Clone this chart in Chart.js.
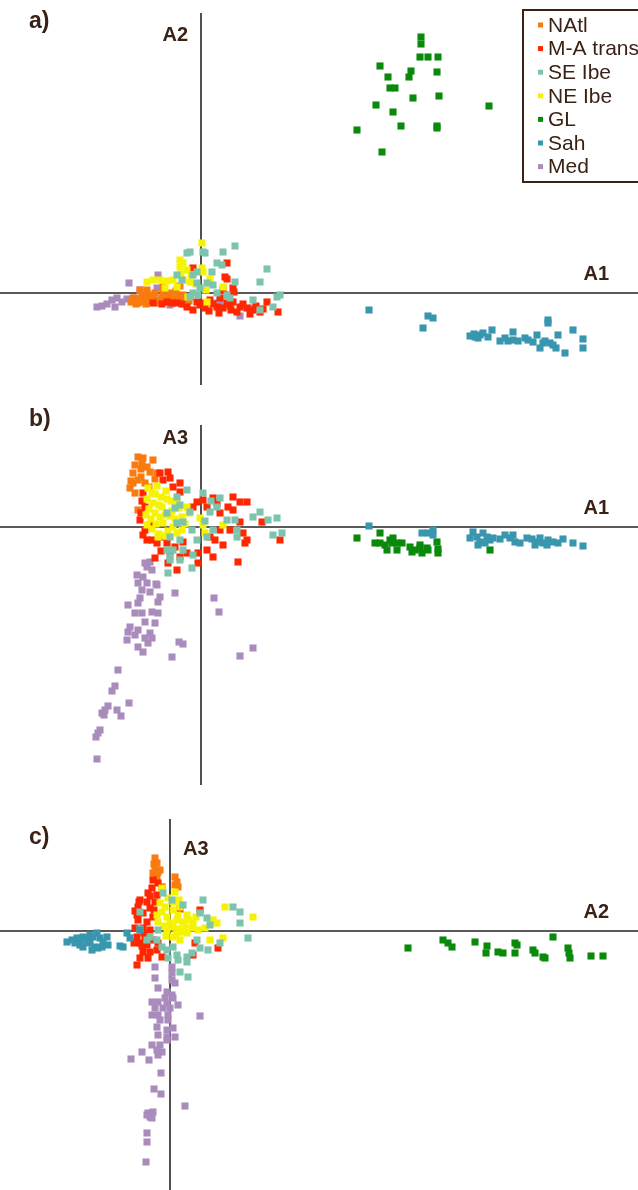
<!DOCTYPE html>
<html>
<head>
<meta charset="utf-8">
<script src="https://cdn.jsdelivr.net/npm/chart.js@4"></script>
<style>
html, body { margin: 0; padding: 0; background: #fff; }
#wrap { position: relative; width: 638px; height: 1190px; overflow: hidden; }
#wrap canvas { position: absolute; left: 0; }
</style>
</head>
<body>
<div id="wrap">
  <canvas id="chartA" width="638" height="400" style="top:0"></canvas>
  <canvas id="chartB" width="638" height="400" style="top:400px"></canvas>
  <canvas id="chartC" width="638" height="390" style="top:800px"></canvas>
</div>
<script>
// groups, in legend order
const groups = ['NAtl', 'M-A trans', 'SE Ibe', 'NE Ibe', 'GL', 'Sah', 'Med'];
const colors = ['#F97B10', '#FF2600', '#7DC4AE', '#F6F300', '#0A8A0A', '#3896AE', '#A98CBC'];
const stackOrder = [6, 5, 3, 4, 2, 1, 7]; // lower = drawn on top

// ---- panel a : A1 (x) vs A2 (y)
const natlA = [[-7.0,-0.9],[-6.6,-0.7],[-6.3,-1.0],[-6.0,-0.6],[-5.7,-0.9],[-5.4,-0.5],[-5.1,-0.8],[-4.8,-0.4],[-4.5,-0.7],[-4.2,-1.0],[-3.9,-0.5],[-3.6,-0.8],[-3.3,-0.3],[-3.0,-0.6],[-2.7,-0.9],[-2.4,-0.4],[-2.1,-0.7],[-1.8,-0.2],[-1.5,-0.5],[-1.2,-0.8],[-6.8,-0.5],[-5.9,-0.3],[-5.2,-0.2],[-4.6,0.0],[-3.8,0.1],[-3.1,0.0],[-2.5,0.2],[-6.5,-1.1],[-5.5,-1.1],[-4.0,-0.9],[-6.1,0.3],[-5.4,0.3],[-3.8,0.6],[-2.1,0.7]];
const maA = [[2.6,3.0],[2.4,1.6],[2.6,1.4],[3.2,0.5],[3.3,0.1],[-0.8,2.5],[-1.1,-0.4],[-0.4,-0.9],[-0.1,-1.2],[-1.4,-1.4],[0.9,-0.7],[1.6,-1.4],[2.6,-1.0],[3.2,-0.9],[3.9,-1.4],[4.6,-1.5],[5.2,-1.7],[5.9,-1.9],[6.6,-0.9],[7.7,-1.9],[3.6,-1.9],[2.2,-1.5],[-2.4,-1.0],[-3.4,-0.9],[-4.8,-1.0],[2.6,-0.2],[1.9,-0.5],[-1.9,-1.1],[0.3,-1.0],[1.2,-1.1],[4.2,-1.1],[2.9,-1.3],[-2.9,-1.0],[-3.9,-1.1],[0.4,-1.5],[0.8,-1.8],[1.8,-2.0],[3.0,-1.7],[4.9,-2.1],[5.5,-1.3],[6.2,-1.6],[-0.8,-1.7],[2.2,0.3]];
const seA = [[3.4,4.7],[2.2,4.1],[-1.1,4.1],[-1.4,4.0],[0.2,4.1],[0.4,4.0],[1.6,3.0],[2.1,2.8],[6.6,2.4],[5.9,1.1],[3.4,1.1],[1.1,2.1],[-0.4,2.1],[-0.8,1.8],[-2.4,1.8],[-1.9,1.3],[-0.4,1.0],[-0.1,0.5],[0.6,1.0],[1.2,0.8],[-0.8,0.0],[-0.3,-0.2],[1.6,0.0],[2.6,-0.2],[2.9,-0.5],[5.2,-0.7],[5.9,-1.7],[7.2,-1.4],[7.9,-0.2],[7.6,-0.4],[-1.1,-0.4]];
const neA = [[0.1,5.0],[-2.1,3.3],[-1.8,3.0],[-2.1,2.6],[-5.4,1.1],[-4.8,1.3],[-4.1,1.3],[-3.4,1.2],[-2.8,1.3],[-1.4,2.3],[-1.1,1.1],[-1.8,1.3],[0.1,2.5],[0.2,2.1],[0.5,0.3],[0.6,-0.9],[2.2,0.6],[-1.3,-0.4],[-2.4,0.6],[-3.6,0.5],[-1.0,1.8],[-0.5,0.9],[0.9,1.4],[-2.0,1.9]];
const glA = [[22.0,25.6],[22.0,24.9],[21.9,23.6],[22.7,23.6],[23.7,23.6],[17.9,22.7],[18.7,21.6],[21.0,22.2],[20.8,21.6],[23.6,22.1],[18.9,20.5],[19.4,20.5],[21.2,19.5],[23.8,19.7],[17.5,18.8],[19.2,18.1],[28.8,18.7],[15.6,16.3],[20.0,16.7],[23.6,16.7],[23.6,16.5],[18.1,14.1]];
const sahA = [[16.8,-1.7],[22.7,-2.3],[23.2,-2.5],[22.2,-3.5],[26.9,-4.3],[27.4,-4.4],[27.9,-4.2],[28.2,-4.0],[29.1,-3.7],[28.7,-4.4],[29.9,-4.8],[30.4,-4.5],[31.2,-3.9],[31.2,-4.7],[31.7,-4.8],[32.7,-4.7],[33.2,-4.9],[33.6,-4.2],[33.9,-5.5],[34.2,-5.0],[34.7,-2.7],[34.7,-3.0],[35.2,-5.2],[35.5,-5.5],[35.7,-4.2],[36.4,-6.0],[37.2,-3.7],[38.2,-4.6],[38.2,-5.5],[27.3,-4.1],[27.7,-4.5],[30.7,-4.8],[34.4,-4.8],[34.9,-5.0],[32.4,-4.5]];
const medA = [[-10.4,-1.4],[-9.9,-1.3],[-9.4,-1.1],[-8.9,-0.7],[-8.4,-0.5],[-8.6,-1.4],[-7.9,-0.9],[-7.4,-0.6],[-7.2,1.0],[-6.6,-0.5],[-6.1,0.3],[-5.6,-0.4],[-4.9,-0.7],[-4.4,0.5],[-4.3,1.8],[-2.9,-0.7],[-2.1,-0.4],[-1.9,-1.0],[1.6,-1.0],[1.9,-0.9],[3.9,-2.3],[5.2,-1.5],[-3.1,-1.2]];

// ---- panel b : A1 (x) vs A3 (y)
const natlB = [[-6.3,7.0],[-6.6,6.2],[-5.9,6.4],[-5.4,6.0],[-6.8,5.4],[-5.1,5.5],[-6.3,4.7],[-6.8,4.4],[-5.6,4.4],[-7.1,3.9],[-4.8,6.7],[-4.4,5.4],[-6.3,1.7],[-6.0,5.0],[-5.2,4.0],[-6.6,3.4],[-4.6,4.8],[-7.0,4.6],[-5.8,6.9],[-6.0,5.8]];
const maB = [[-4.1,5.4],[-3.3,5.5],[-3.1,4.9],[-3.8,4.7],[-2.1,4.4],[-2.8,4.0],[-2.1,3.5],[-5.8,3.4],[-5.6,2.0],[-6.1,0.7],[-5.8,-0.8],[-5.4,-1.3],[-4.9,-1.3],[-4.1,-1.0],[-3.4,-1.6],[-3.1,-2.5],[-2.1,-3.0],[-4.6,-3.1],[-2.4,-4.3],[-3.3,-3.6],[-0.3,-3.6],[-0.3,-2.6],[-0.8,2.0],[-0.4,2.5],[0.2,2.7],[0.6,2.0],[1.2,2.9],[1.6,2.4],[1.9,1.4],[2.7,2.0],[3.2,3.0],[3.2,1.7],[3.9,2.5],[4.6,2.5],[3.9,0.5],[4.2,-0.6],[4.6,-1.3],[6.1,0.5],[7.9,-1.3],[2.9,-0.3],[1.9,-0.3],[1.4,-1.3],[0.9,-1.0],[0.6,-2.3],[1.2,-3.0],[3.7,-3.5],[2.2,-1.8],[4.4,-1.6],[-1.8,-1.5],[-5.1,0.2],[-5.9,2.6],[-6.0,1.4],[-5.6,-0.3],[-4.4,-1.6],[-2.6,-2.0],[-1.4,-2.6],[-4.0,-2.4]];
const seB = [[-1.4,3.7],[0.2,3.4],[-2.4,3.0],[-2.1,2.2],[-1.1,1.5],[-3.4,1.4],[-2.4,0.4],[-1.8,0.5],[-3.1,-1.0],[-2.1,-1.3],[-3.4,-2.3],[-2.8,-2.3],[-1.8,-2.3],[-3.1,-3.0],[-0.8,-2.8],[-0.4,-1.3],[0.9,1.5],[1.6,2.0],[1.9,2.9],[2.6,0.7],[3.4,0.7],[3.6,-0.3],[5.2,1.0],[5.9,1.5],[6.7,0.7],[7.6,0.9],[7.2,-0.8],[8.1,-0.6],[3.6,-1.0],[0.6,-1.0],[1.2,-0.3],[-3.3,-4.6],[-0.9,-4.1],[-2.1,-3.3],[-3.1,-3.3],[-0.9,-0.3],[0.4,0.6],[1.0,2.6],[-2.6,1.9]];
const neB = [[-5.3,3.9],[-4.9,3.4],[-5.4,2.8],[-4.8,2.4],[-5.2,1.8],[-4.6,1.4],[-5.0,0.8],[-4.5,0.3],[-4.9,-0.2],[-4.2,-0.7],[-4.0,3.0],[-3.9,2.0],[-3.6,1.2],[-3.8,0.4],[-3.3,-0.4],[-3.0,2.6],[-2.9,1.6],[-2.6,0.8],[-2.8,0.0],[-2.2,1.9],[-1.9,1.0],[-1.6,0.3],[-1.4,2.0],[-1.2,1.4],[-4.4,4.1],[-0.1,0.9],[0.4,-0.6],[0.2,0.2],[2.2,0.2],[-3.5,3.6],[-5.5,1.2],[-4.3,-1.0],[-1.9,-0.3],[-4.6,3.3],[-4.2,2.2],[-3.4,2.8],[-4.1,1.0],[-3.1,1.1],[-2.4,2.4],[-5.4,0.2],[-3.6,-0.9],[-2.4,-0.6]];
const glB = [[15.6,-1.1],[17.9,-0.6],[17.4,-1.6],[17.9,-1.6],[18.4,-1.8],[18.9,-1.3],[19.2,-1.1],[19.1,-1.6],[19.6,-1.6],[20.1,-1.6],[18.6,-2.3],[19.6,-2.3],[20.9,-2.0],[21.1,-2.5],[21.4,-2.3],[21.9,-1.8],[21.9,-2.1],[22.1,-2.6],[22.6,-2.1],[22.7,-2.3],[23.6,-1.5],[23.7,-2.2],[23.7,-2.6],[28.9,-2.3]];
const sahB = [[16.8,0.1],[22.1,-0.6],[22.7,-0.6],[23.2,-0.3],[23.2,-0.8],[26.9,-1.1],[27.2,-0.5],[27.6,-1.0],[27.9,-1.5],[28.2,-0.6],[28.6,-1.0],[28.9,-1.3],[29.2,-1.1],[29.9,-1.2],[30.4,-0.8],[30.9,-1.1],[31.2,-0.8],[31.4,-1.5],[31.9,-1.6],[32.6,-1.1],[33.1,-1.2],[33.6,-1.5],[33.9,-1.1],[34.2,-1.6],[34.7,-1.3],[35.2,-1.5],[35.7,-1.6],[36.2,-1.2],[37.2,-1.6],[38.2,-1.9],[27.7,-1.8],[28.4,-1.6],[33.4,-1.8],[34.6,-1.8]];
const medB = [[-5.6,-3.6],[-5.1,-3.5],[-5.4,-4.0],[-4.9,-4.3],[-6.4,-4.8],[-5.8,-5.0],[-6.3,-5.6],[-5.4,-5.6],[-5.9,-6.3],[-5.1,-6.5],[-4.4,-5.8],[-4.1,-7.0],[-4.3,-7.5],[-6.1,-7.1],[-6.3,-7.6],[-7.3,-7.8],[-6.6,-8.6],[-5.9,-8.6],[-4.9,-8.5],[-4.3,-8.6],[-5.6,-9.5],[-4.6,-9.6],[-7.1,-10.0],[-6.3,-10.3],[-7.3,-10.5],[-6.6,-10.8],[-5.1,-10.6],[-7.4,-11.3],[-5.6,-11.1],[-4.9,-11.1],[-6.3,-12.0],[-5.8,-12.5],[-5.3,-11.6],[-2.6,-6.6],[-4.5,-5.7],[1.3,-7.1],[1.8,-8.5],[-2.2,-11.5],[-1.8,-11.7],[-2.9,-13.0],[3.9,-12.9],[5.2,-12.1],[-8.3,-14.3],[-8.6,-15.9],[-8.9,-16.4],[-7.2,-17.6],[-9.6,-18.3],[-9.3,-17.9],[-9.9,-18.6],[-9.7,-18.8],[-8.4,-18.3],[-8.0,-18.9],[-10.1,-20.3],[-10.3,-20.6],[-10.5,-21.0],[-10.4,-23.2]];

// ---- panel c : A2 (x) vs A3 (y)
const natlC = [[-1.5,7.3],[-1.3,6.8],[-1.5,6.3],[-1.2,5.9],[-1.7,5.8],[-1.3,5.4],[0.5,5.4],[0.7,4.9],[0.8,4.4],[0.5,4.6],[-1.6,6.7],[-1.0,6.1]];
const maC = [[-1.7,5.1],[-1.2,4.8],[-1.8,4.3],[-0.8,4.4],[-2.2,3.8],[-1.3,3.6],[-3.0,3.1],[-2.3,2.9],[-1.5,2.9],[-3.2,2.4],[-2.0,2.3],[-3.3,1.6],[-2.7,1.8],[-3.2,1.1],[-2.3,0.9],[-1.7,1.4],[-3.5,0.3],[-2.7,0.3],[-2.0,0.1],[-3.3,-0.6],[-2.5,-0.6],[-3.0,-1.2],[-2.3,-1.4],[-1.7,-0.9],[-2.7,-2.1],[-2.0,-2.1],[-1.3,-1.9],[-3.3,-3.4],[-0.8,-2.6],[2.3,-2.4],[3.0,2.1],[2.5,-1.2],[4.8,-1.7],[-1.2,-1.2],[-2.6,-0.2],[-3.1,2.9],[-2.8,-1.5],[1.0,2.2],[-3.5,2.0],[-2.0,3.5],[-3.6,-1.2],[-3.0,-2.7],[-2.2,-2.7],[-1.6,2.1]];
const seC = [[-0.7,3.8],[0.2,3.1],[1.3,2.6],[-3.0,1.9],[-3.0,0.2],[-2.0,-0.6],[-1.2,0.1],[-1.3,-0.9],[-0.8,-1.6],[-0.3,-1.9],[0.3,-1.6],[0.7,-2.4],[-0.2,-2.7],[0.8,-2.9],[1.7,-2.6],[2.2,-2.2],[2.7,-0.9],[3.0,-1.7],[3.3,3.1],[3.0,1.8],[3.7,1.3],[4.0,0.6],[6.3,2.4],[7.0,1.9],[7.0,0.8],[7.8,-0.7],[5.0,-1.2],[3.8,-1.9],[1.8,-4.6],[-2.3,-0.9],[1.7,-3.1],[1.0,-4.1]];
const neC = [[-0.8,4.3],[0.5,3.9],[0.3,2.9],[-0.5,2.4],[-1.3,1.6],[-1.2,0.9],[-0.3,1.4],[0.3,2.1],[1.0,2.4],[1.7,1.6],[2.3,0.8],[0.3,0.4],[-0.3,0.1],[1.2,-0.1],[0.3,-0.6],[1.0,-0.9],[1.7,-0.2],[2.2,0.3],[1.3,0.9],[0.7,1.1],[0.0,0.8],[5.5,2.4],[4.3,1.1],[4.7,0.8],[3.5,0.3],[4.0,-0.9],[5.3,-0.7],[8.3,1.4],[-0.8,1.9],[0.8,1.6],[-0.6,0.5],[1.5,0.4],[0.6,-0.3],[-0.2,3.3],[0.9,3.1],[-1.0,2.8],[1.9,1.1],[2.8,0.1],[-0.4,-0.5],[0.8,0.2],[2.6,1.4]];
const glC = [[23.8,-1.7],[27.3,-0.9],[27.8,-1.2],[28.2,-1.6],[30.5,-1.1],[31.7,-1.5],[31.6,-2.2],[32.8,-2.1],[33.3,-2.2],[34.5,-1.2],[34.7,-1.4],[34.5,-2.2],[36.3,-1.9],[36.5,-2.2],[37.3,-2.6],[37.5,-2.7],[38.3,-0.6],[39.8,-1.7],[39.9,-2.2],[40.0,-2.7],[42.1,-2.5],[43.3,-2.5]];
const sahC = [[-10.3,-1.1],[-9.8,-0.9],[-9.5,-1.2],[-9.0,-0.9],[-8.7,-0.6],[-8.3,-0.7],[-8.0,-0.4],[-7.7,-0.6],[-7.3,-0.2],[-7.0,-0.7],[-6.7,-1.1],[-6.3,-0.6],[-6.2,-1.4],[-8.0,-1.2],[-7.5,-1.6],[-7.2,-1.7],[-8.7,-1.6],[-9.3,-0.7],[-5.0,-1.5],[-4.7,-1.6],[-4.3,-0.2],[-4.0,-0.7],[-3.0,0.1],[-6.8,-1.6],[-8.3,-1.1],[-9.0,-1.4],[-7.8,-1.9]];
const medC = [[-1.5,-3.6],[0.2,-3.6],[0.2,-4.2],[-1.5,-4.7],[-1.2,-5.7],[0.2,-4.9],[0.5,-5.2],[-0.3,-6.1],[0.2,-6.4],[-0.5,-6.7],[0.3,-6.7],[-1.8,-7.1],[-1.2,-7.1],[-0.3,-7.2],[0.8,-7.4],[-1.5,-7.7],[-0.7,-7.7],[0.0,-7.7],[-1.8,-8.4],[-1.2,-8.4],[-0.2,-8.4],[-1.0,-8.9],[-0.2,-8.9],[3.0,-8.5],[-1.3,-9.6],[-0.3,-9.9],[0.3,-9.7],[-1.2,-10.4],[-0.3,-10.6],[0.5,-10.6],[-1.8,-11.4],[-1.0,-11.4],[-0.3,-10.9],[-1.3,-11.9],[-0.8,-12.1],[-1.2,-12.4],[-2.8,-12.1],[-3.9,-12.8],[-2.1,-12.9],[-0.9,-14.2],[-1.6,-15.8],[-0.9,-16.3],[1.5,-17.5],[-2.2,-18.2],[-1.7,-18.1],[-1.8,-18.7],[-2.3,-18.4],[-2.0,-18.6],[-2.3,-20.2],[-2.3,-21.1],[-2.4,-23.1]];

const textColor = '#3a2216';
const fontFam = '"Liberation Sans", Arial, Helvetica, sans-serif';

// zero axes + axis names + panel letter
const pcaAxes = {
  id: 'pcaAxes',
  beforeDatasetsDraw(chart, args, opts) {
    const { ctx } = chart;
    const x = chart.scales.x, y = chart.scales.y;
    const ox = x.getPixelForValue(0);
    const oy = y.getPixelForValue(0);
    ctx.save();
    ctx.strokeStyle = '#262626';
    ctx.lineWidth = 1.6;
    ctx.beginPath();
    ctx.moveTo(x.left, oy);
    ctx.lineTo(x.right, oy);
    ctx.moveTo(ox, y.getPixelForValue(opts.vTop));
    ctx.lineTo(ox, y.getPixelForValue(opts.vBottom));
    ctx.stroke();

    ctx.fillStyle = textColor;
    ctx.textBaseline = 'alphabetic';
    ctx.font = 'bold 23px ' + fontFam;
    ctx.textAlign = 'left';
    ctx.fillText(opts.panel, 29, opts.panelY);

    ctx.font = 'bold 20px ' + fontFam;
    if (opts.yNameLeft) {
      ctx.textAlign = 'right';
      ctx.fillText(opts.yName, ox - 13, opts.yNameY);
    } else {
      ctx.textAlign = 'left';
      ctx.fillText(opts.yName, ox + 13, opts.yNameY);
    }
    ctx.textAlign = 'right';
    ctx.fillText(opts.xName, 609, oy - 13);
    ctx.restore();
  }
};

// boxed legend (panel a only)
const boxLegend = {
  id: 'boxLegend',
  afterDatasetsDraw(chart, args, opts) {
    if (!opts.show) return;
    const { ctx } = chart;
    ctx.save();
    ctx.fillStyle = '#fff';
    ctx.fillRect(523, 10, 130, 172);
    ctx.strokeStyle = textColor;
    ctx.lineWidth = 2;
    ctx.strokeRect(523, 10, 130, 172);
    ctx.font = '21px ' + fontFam;
    ctx.textBaseline = 'middle';
    ctx.textAlign = 'left';
    chart.data.datasets.forEach((ds, i) => {
      const cy = 25 + i * 23.6;
      ctx.fillStyle = ds.backgroundColor;
      ctx.fillRect(538, cy - 2.5, 5, 5);
      ctx.fillStyle = textColor;
      ctx.fillText(ds.label, 548, cy + 1);
    });
    ctx.restore();
  }
};

function makeDatasets(sets) {
  return sets.map((pts, i) => ({
    label: groups[i],
    data: pts.map(p => ({ x: p[0], y: p[1] })),
    backgroundColor: colors[i],
    borderColor: colors[i],
    pointBackgroundColor: colors[i],
    pointBorderColor: colors[i],
    pointStyle: 'rect',
    pointRadius: 5,
    pointBorderWidth: 0,
    order: stackOrder[i]
  }));
}

function drawPanel(id, sets, range, axisOpts, showLegend) {
  new Chart(document.getElementById(id), {
    type: 'scatter',
    data: { datasets: makeDatasets(sets) },
    options: {
      responsive: false,
      animation: false,
      events: [],
      layout: { padding: 0, autoPadding: false },
      scales: {
        x: { type: 'linear', display: false, min: range[0], max: range[1] },
        y: { type: 'linear', display: false, min: range[2], max: range[3] }
      },
      plugins: {
        legend: { display: false },
        tooltip: { enabled: false },
        pcaAxes: axisOpts,
        boxLegend: { show: showLegend }
      }
    },
    plugins: [pcaAxes, boxLegend]
  });
}

drawPanel('chartA', [natlA, maA, seA, neA, glA, sahA, medA],
  [-20.1, 43.7, -10.7, 29.3],
  { panel: 'a)', panelY: 28, yName: 'A2', yNameY: 41, yNameLeft: true, xName: 'A1', vTop: 28.0, vBottom: -9.2 },
  true);

drawPanel('chartB', [natlB, maB, seB, neB, glB, sahB, medB],
  [-20.1, 43.7, -27.3, 12.7],
  { panel: 'b)', panelY: 26, yName: 'A3', yNameY: 44, yNameLeft: true, xName: 'A1', vTop: 10.2, vBottom: -25.8 },
  false);

drawPanel('chartC', [natlC, maC, seC, neC, glC, sahC, medC],
  [-17.0, 46.8, -25.9, 13.1],
  { panel: 'c)', panelY: 44, yName: 'A3', yNameY: 55, yNameLeft: false, xName: 'A2', vTop: 11.2, vBottom: -25.9 },
  false);
</script>
</body>
</html>
